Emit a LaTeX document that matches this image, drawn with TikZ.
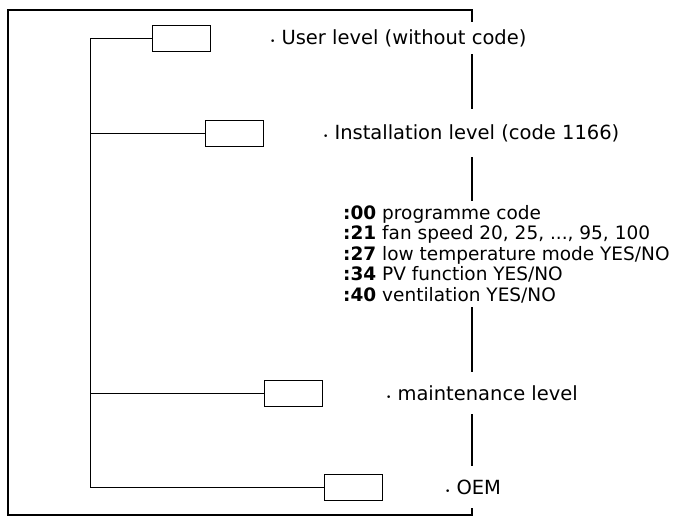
\documentclass[tikz,border=0pt]{standalone}
\usepackage{fontspec}
\setmainfont{DejaVu Sans}
\begin{document}
\begin{tikzpicture}[x=1pt,y=-1pt,
  box/.style={draw,line width=1pt,minimum width=58pt,minimum height=26pt,inner sep=0pt},
  lvl/.style={anchor=west,fill=white,inner xsep=2pt,inner ysep=7pt,font=\fontsize{19.5}{20}\selectfont},
  tree/.style={line width=1pt}]
\useasboundingbox (0,0) rectangle (693,517);
\draw[line width=2pt] (472,10) -- (8,10) -- (8,515) -- (472,515) -- cycle;
\node[box] (b1) at (181,38) {};
\node[box] (b2) at (234,133) {};
\node[box] (b3) at (293,393) {};
\node[box] (b4) at (353,487) {};
\coordinate (t1) at (90,38);
\coordinate (t4) at (90,487);
\draw[tree] (t1) -- (t4);
\draw[tree] (t1) -- (b1.west);
\draw[tree] (90,133) -- (b2.west);
\draw[tree] (90,393) -- (b3.west);
\draw[tree] (t4) -- (b4.west);
\node[lvl] (l1) at (268,38) {{\small•}\hspace{6pt}User level (without code)};
\node[lvl,inner ysep=15pt] (l2) at (321,133) {{\small•}\hspace{6pt}Installation level (code 1166)};
\node[lvl,inner ysep=13pt] (l3) at (384,393) {{\small•}\hspace{6pt}maintenance level};
\node[lvl,inner ysep=14pt] (l4) at (443,487) {{\small•}\hspace{6pt}OEM};
\node[anchor=north west,fill=white,inner xsep=2pt,inner ysep=4pt,align=left,
  font=\fontsize{18.5}{20.5}\selectfont] (list) at (341,201) {%
\textbf{:00} programme code\\
\textbf{:21} fan speed 20, 25, ..., 95, 100\\
\textbf{:27} low temperature mode YES/NO\\
\textbf{:34} PV function YES/NO\\
\textbf{:40} ventilation YES/NO};
\end{tikzpicture}
\end{document}
